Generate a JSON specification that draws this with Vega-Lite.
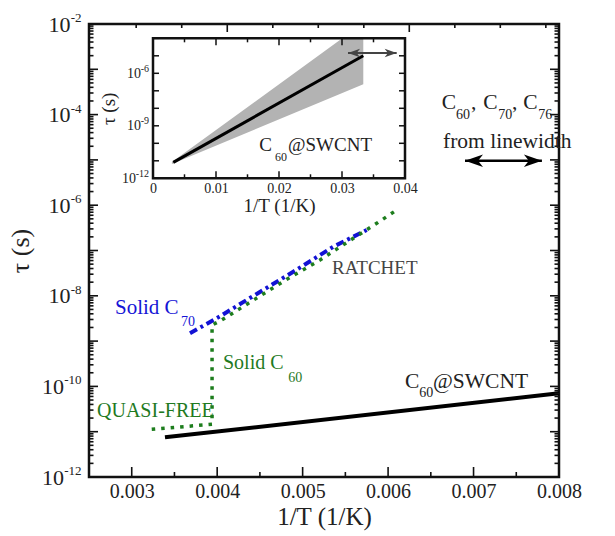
{
  "$schema": "https://vega.github.io/schema/vega-lite/v6.json",
  "width": 470,
  "height": 453,
  "autosize": "none",
  "padding": {"left": 89, "top": 24, "right": 56, "bottom": 59},
  "background": "white",
  "config": {
    "font": "Liberation Serif",
    "view": {"stroke": "#111", "strokeWidth": 2.5},
    "axis": {"labelColor": "#222", "titleColor": "#222", "titleFontWeight": "normal", "labelFont": "Liberation Serif", "titleFont": "Liberation Serif", "grid": false},
    "text": {"font": "Liberation Serif"}
  },
  "datasets": {
    "swcnt": [{"x": 0.003389, "y": 7.5e-12}, {"x": 0.008, "y": 7.05e-11}],
    "green": [
      {"o": 1, "x": 0.003234, "y": 1.13e-11},
      {"o": 2, "x": 0.00394, "y": 1.46e-11},
      {"o": 3, "x": 0.00394, "y": 2.26e-9},
      {"o": 4, "x": 0.004053, "y": 2.92e-9},
      {"o": 5, "x": 0.004501, "y": 9.9e-9},
      {"o": 6, "x": 0.004852, "y": 2.56e-8},
      {"o": 7, "x": 0.005203, "y": 6.17e-8},
      {"o": 8, "x": 0.005593, "y": 1.86e-7},
      {"o": 9, "x": 0.005867, "y": 3.98e-7},
      {"o": 10, "x": 0.006101, "y": 7.83e-7}
    ],
    "blue": [
      {"x": 0.003682, "y": 1.49e-9},
      {"x": 0.004013, "y": 3.35e-9},
      {"x": 0.004462, "y": 1.1e-8},
      {"x": 0.004891, "y": 3.4e-8},
      {"x": 0.005359, "y": 1.21e-7},
      {"x": 0.00575, "y": 2.84e-7}
    ],
    "arrowMain": [{"d": "L", "x": 0.0069, "y": 9.6e-6}, {"d": "R", "x": 0.0078, "y": 9.6e-6}],
    "txt": [
      {"g": "blueL", "x": 0.002804, "y": 5.37e-9, "t": "Solid C"},
      {"g": "blueS", "x": 0.003577, "y": 2.68e-9, "t": "70"},
      {"g": "greenL", "x": 0.004068, "y": 3.24e-10, "t": "Solid C"},
      {"g": "greenL", "x": 0.002594, "y": 2.91e-11, "t": "QUASI-FREE"},
      {"g": "greenS", "x": 0.004832, "y": 1.51e-10, "t": "60"},
      {"g": "ratchet", "x": 0.005344, "y": 4.11e-8, "t": "RATCHET"},
      {"g": "blackL", "x": 0.006198, "y": 1.27e-10, "t": "C"},
      {"g": "blackL", "x": 0.006526, "y": 1.27e-10, "t": "@SWCNT"},
      {"g": "blackL", "x": 0.006627, "y": 1.78e-4, "t": "C"},
      {"g": "blackL", "x": 0.00697, "y": 1.78e-4, "t": ","},
      {"g": "blackL", "x": 0.007114, "y": 1.78e-4, "t": "C"},
      {"g": "blackL", "x": 0.00745, "y": 1.78e-4, "t": ","},
      {"g": "blackL", "x": 0.007582, "y": 1.78e-4, "t": "C"},
      {"g": "blackL", "x": 0.006643, "y": 2.52e-5, "t": "from linewidth"},
      {"g": "blackS", "x": 0.006365, "y": 7.05e-11, "t": "60"},
      {"g": "blackS", "x": 0.006795, "y": 9.8e-5, "t": "60"},
      {"g": "blackS", "x": 0.00729, "y": 9.8e-5, "t": "70"},
      {"g": "blackS", "x": 0.007758, "y": 9.8e-5, "t": "76"}
    ],
    "mxt": [
      {"x": 0.003, "y": 1e-12, "d": "bM"}, {"x": 0.0035, "y": 1e-12, "d": "bm"}, {"x": 0.004, "y": 1e-12, "d": "bM"}, {"x": 0.0045, "y": 1e-12, "d": "bm"},
      {"x": 0.005, "y": 1e-12, "d": "bM"}, {"x": 0.0055, "y": 1e-12, "d": "bm"}, {"x": 0.006, "y": 1e-12, "d": "bM"}, {"x": 0.0065, "y": 1e-12, "d": "bm"},
      {"x": 0.007, "y": 1e-12, "d": "bM"}, {"x": 0.0075, "y": 1e-12, "d": "bm"}, {"x": 0.008, "y": 1e-12, "d": "bM"},
      {"x": 0.003052, "y": 1e-2, "d": "tm"}, {"x": 0.003585, "y": 1e-2, "d": "tm"}, {"x": 0.004118, "y": 1e-2, "d": "tM"}, {"x": 0.004651, "y": 1e-2, "d": "tm"},
      {"x": 0.005183, "y": 1e-2, "d": "tm"}, {"x": 0.005716, "y": 1e-2, "d": "tm"}, {"x": 0.006248, "y": 1e-2, "d": "tM"}, {"x": 0.006781, "y": 1e-2, "d": "tm"},
      {"x": 0.007313, "y": 1e-2, "d": "tm"}, {"x": 0.007846, "y": 1e-2, "d": "tm"}
    ],
    "myt": [
      {"y": 1e-12, "a": 0.0025, "b": 0.008, "p": "lM", "q": "rM"}, {"y": 2e-12, "a": 0.0025, "b": 0.008, "p": "lm", "q": "rm"}, {"y": 3e-12, "a": 0.0025, "b": 0.008, "p": "lm", "q": "rm"}, {"y": 4e-12, "a": 0.0025, "b": 0.008, "p": "lm", "q": "rm"}, {"y": 5e-12, "a": 0.0025, "b": 0.008, "p": "lm", "q": "rm"}, {"y": 6e-12, "a": 0.0025, "b": 0.008, "p": "lm", "q": "rm"}, {"y": 7e-12, "a": 0.0025, "b": 0.008, "p": "lm", "q": "rm"}, {"y": 8e-12, "a": 0.0025, "b": 0.008, "p": "lm", "q": "rm"}, {"y": 9e-12, "a": 0.0025, "b": 0.008, "p": "lm", "q": "rm"},
      {"y": 1e-11, "a": 0.0025, "b": 0.008, "p": "lM", "q": "rM"}, {"y": 2e-11, "a": 0.0025, "b": 0.008, "p": "lm", "q": "rm"}, {"y": 3e-11, "a": 0.0025, "b": 0.008, "p": "lm", "q": "rm"}, {"y": 4e-11, "a": 0.0025, "b": 0.008, "p": "lm", "q": "rm"}, {"y": 5e-11, "a": 0.0025, "b": 0.008, "p": "lm", "q": "rm"}, {"y": 6e-11, "a": 0.0025, "b": 0.008, "p": "lm", "q": "rm"}, {"y": 7e-11, "a": 0.0025, "b": 0.008, "p": "lm", "q": "rm"}, {"y": 8e-11, "a": 0.0025, "b": 0.008, "p": "lm", "q": "rm"}, {"y": 9e-11, "a": 0.0025, "b": 0.008, "p": "lm", "q": "rm"},
      {"y": 1e-10, "a": 0.0025, "b": 0.008, "p": "lM", "q": "rM"}, {"y": 2e-10, "a": 0.0025, "b": 0.008, "p": "lm", "q": "rm"}, {"y": 3e-10, "a": 0.0025, "b": 0.008, "p": "lm", "q": "rm"}, {"y": 4e-10, "a": 0.0025, "b": 0.008, "p": "lm", "q": "rm"}, {"y": 5e-10, "a": 0.0025, "b": 0.008, "p": "lm", "q": "rm"}, {"y": 6e-10, "a": 0.0025, "b": 0.008, "p": "lm", "q": "rm"}, {"y": 7e-10, "a": 0.0025, "b": 0.008, "p": "lm", "q": "rm"}, {"y": 8e-10, "a": 0.0025, "b": 0.008, "p": "lm", "q": "rm"}, {"y": 9e-10, "a": 0.0025, "b": 0.008, "p": "lm", "q": "rm"},
      {"y": 1e-9, "a": 0.0025, "b": 0.008, "p": "lM", "q": "rM"}, {"y": 2e-9, "a": 0.0025, "b": 0.008, "p": "lm", "q": "rm"}, {"y": 3e-9, "a": 0.0025, "b": 0.008, "p": "lm", "q": "rm"}, {"y": 4e-9, "a": 0.0025, "b": 0.008, "p": "lm", "q": "rm"}, {"y": 5e-9, "a": 0.0025, "b": 0.008, "p": "lm", "q": "rm"}, {"y": 6e-9, "a": 0.0025, "b": 0.008, "p": "lm", "q": "rm"}, {"y": 7e-9, "a": 0.0025, "b": 0.008, "p": "lm", "q": "rm"}, {"y": 8e-9, "a": 0.0025, "b": 0.008, "p": "lm", "q": "rm"}, {"y": 9e-9, "a": 0.0025, "b": 0.008, "p": "lm", "q": "rm"},
      {"y": 1e-8, "a": 0.0025, "b": 0.008, "p": "lM", "q": "rM"}, {"y": 2e-8, "a": 0.0025, "b": 0.008, "p": "lm", "q": "rm"}, {"y": 3e-8, "a": 0.0025, "b": 0.008, "p": "lm", "q": "rm"}, {"y": 4e-8, "a": 0.0025, "b": 0.008, "p": "lm", "q": "rm"}, {"y": 5e-8, "a": 0.0025, "b": 0.008, "p": "lm", "q": "rm"}, {"y": 6e-8, "a": 0.0025, "b": 0.008, "p": "lm", "q": "rm"}, {"y": 7e-8, "a": 0.0025, "b": 0.008, "p": "lm", "q": "rm"}, {"y": 8e-8, "a": 0.0025, "b": 0.008, "p": "lm", "q": "rm"}, {"y": 9e-8, "a": 0.0025, "b": 0.008, "p": "lm", "q": "rm"},
      {"y": 1e-7, "a": 0.0025, "b": 0.008, "p": "lM", "q": "rM"}, {"y": 2e-7, "a": 0.0025, "b": 0.008, "p": "lm", "q": "rm"}, {"y": 3e-7, "a": 0.0025, "b": 0.008, "p": "lm", "q": "rm"}, {"y": 4e-7, "a": 0.0025, "b": 0.008, "p": "lm", "q": "rm"}, {"y": 5e-7, "a": 0.0025, "b": 0.008, "p": "lm", "q": "rm"}, {"y": 6e-7, "a": 0.0025, "b": 0.008, "p": "lm", "q": "rm"}, {"y": 7e-7, "a": 0.0025, "b": 0.008, "p": "lm", "q": "rm"}, {"y": 8e-7, "a": 0.0025, "b": 0.008, "p": "lm", "q": "rm"}, {"y": 9e-7, "a": 0.0025, "b": 0.008, "p": "lm", "q": "rm"},
      {"y": 1e-6, "a": 0.0025, "b": 0.008, "p": "lM", "q": "rM"}, {"y": 2e-6, "a": 0.0025, "b": 0.008, "p": "lm", "q": "rm"}, {"y": 3e-6, "a": 0.0025, "b": 0.008, "p": "lm", "q": "rm"}, {"y": 4e-6, "a": 0.0025, "b": 0.008, "p": "lm", "q": "rm"}, {"y": 5e-6, "a": 0.0025, "b": 0.008, "p": "lm", "q": "rm"}, {"y": 6e-6, "a": 0.0025, "b": 0.008, "p": "lm", "q": "rm"}, {"y": 7e-6, "a": 0.0025, "b": 0.008, "p": "lm", "q": "rm"}, {"y": 8e-6, "a": 0.0025, "b": 0.008, "p": "lm", "q": "rm"}, {"y": 9e-6, "a": 0.0025, "b": 0.008, "p": "lm", "q": "rm"},
      {"y": 1e-5, "a": 0.0025, "b": 0.008, "p": "lM", "q": "rM"}, {"y": 2e-5, "a": 0.0025, "b": 0.008, "p": "lm", "q": "rm"}, {"y": 3e-5, "a": 0.0025, "b": 0.008, "p": "lm", "q": "rm"}, {"y": 4e-5, "a": 0.0025, "b": 0.008, "p": "lm", "q": "rm"}, {"y": 5e-5, "a": 0.0025, "b": 0.008, "p": "lm", "q": "rm"}, {"y": 6e-5, "a": 0.0025, "b": 0.008, "p": "lm", "q": "rm"}, {"y": 7e-5, "a": 0.0025, "b": 0.008, "p": "lm", "q": "rm"}, {"y": 8e-5, "a": 0.0025, "b": 0.008, "p": "lm", "q": "rm"}, {"y": 9e-5, "a": 0.0025, "b": 0.008, "p": "lm", "q": "rm"},
      {"y": 1e-4, "a": 0.0025, "b": 0.008, "p": "lM", "q": "rM"}, {"y": 2e-4, "a": 0.0025, "b": 0.008, "p": "lm", "q": "rm"}, {"y": 3e-4, "a": 0.0025, "b": 0.008, "p": "lm", "q": "rm"}, {"y": 4e-4, "a": 0.0025, "b": 0.008, "p": "lm", "q": "rm"}, {"y": 5e-4, "a": 0.0025, "b": 0.008, "p": "lm", "q": "rm"}, {"y": 6e-4, "a": 0.0025, "b": 0.008, "p": "lm", "q": "rm"}, {"y": 7e-4, "a": 0.0025, "b": 0.008, "p": "lm", "q": "rm"}, {"y": 8e-4, "a": 0.0025, "b": 0.008, "p": "lm", "q": "rm"}, {"y": 9e-4, "a": 0.0025, "b": 0.008, "p": "lm", "q": "rm"},
      {"y": 1e-3, "a": 0.0025, "b": 0.008, "p": "lM", "q": "rM"}, {"y": 2e-3, "a": 0.0025, "b": 0.008, "p": "lm", "q": "rm"}, {"y": 3e-3, "a": 0.0025, "b": 0.008, "p": "lm", "q": "rm"}, {"y": 4e-3, "a": 0.0025, "b": 0.008, "p": "lm", "q": "rm"}, {"y": 5e-3, "a": 0.0025, "b": 0.008, "p": "lm", "q": "rm"}, {"y": 6e-3, "a": 0.0025, "b": 0.008, "p": "lm", "q": "rm"}, {"y": 7e-3, "a": 0.0025, "b": 0.008, "p": "lm", "q": "rm"}, {"y": 8e-3, "a": 0.0025, "b": 0.008, "p": "lm", "q": "rm"}, {"y": 9e-3, "a": 0.0025, "b": 0.008, "p": "lm", "q": "rm"},
      {"y": 1e-2, "a": 0.0025, "b": 0.008, "p": "lM", "q": "rM"}
    ],
    "itk": [
      {"x": 0, "y": 1e-12, "d": "ibM"}, {"x": 0.005, "y": 1e-12, "d": "ibm"}, {"x": 0.01, "y": 1e-12, "d": "ibM"}, {"x": 0.015, "y": 1e-12, "d": "ibm"}, {"x": 0.02, "y": 1e-12, "d": "ibM"},
      {"x": 0.025, "y": 1e-12, "d": "ibm"}, {"x": 0.03, "y": 1e-12, "d": "ibM"}, {"x": 0.035, "y": 1e-12, "d": "ibm"}, {"x": 0.04, "y": 1e-12, "d": "ibM"},
      {"x": 0, "y": 1e-4, "d": "itM"}, {"x": 0.005, "y": 1e-4, "d": "itm"}, {"x": 0.01, "y": 1e-4, "d": "itM"}, {"x": 0.015, "y": 1e-4, "d": "itm"}, {"x": 0.02, "y": 1e-4, "d": "itM"},
      {"x": 0.025, "y": 1e-4, "d": "itm"}, {"x": 0.03, "y": 1e-4, "d": "itM"}, {"x": 0.035, "y": 1e-4, "d": "itm"}, {"x": 0.04, "y": 1e-4, "d": "itM"},
      {"x": 0, "y": 1e-12, "d": "il"}, {"x": 0, "y": 1e-11, "d": "il"}, {"x": 0, "y": 1e-10, "d": "il"}, {"x": 0, "y": 1e-9, "d": "il"}, {"x": 0, "y": 1e-8, "d": "il"},
      {"x": 0, "y": 1e-7, "d": "il"}, {"x": 0, "y": 1e-6, "d": "il"}, {"x": 0, "y": 1e-5, "d": "il"}, {"x": 0, "y": 1e-4, "d": "il"},
      {"x": 0.04, "y": 1e-12, "d": "ir"}, {"x": 0.04, "y": 1e-11, "d": "ir"}, {"x": 0.04, "y": 1e-10, "d": "ir"}, {"x": 0.04, "y": 1e-9, "d": "ir"}, {"x": 0.04, "y": 1e-8, "d": "ir"},
      {"x": 0.04, "y": 1e-7, "d": "ir"}, {"x": 0.04, "y": 1e-6, "d": "ir"}, {"x": 0.04, "y": 1e-5, "d": "ir"}, {"x": 0.04, "y": 1e-4, "d": "ir"}
    ],
    "iframe": [{"x": 0, "x2": 0.04, "y": 1e-12, "y2": 1e-4}],
    "iband": [
      {"x": 0.003, "lo": 6.5e-12, "hi": 8.5e-12},
      {"x": 0.03005, "lo": 7.6e-8, "hi": 1e-4},
      {"x": 0.03338, "lo": 2.34e-7, "hi": 1e-4}
    ],
    "iline": [{"x": 0.00322, "y": 8.1e-12}, {"x": 0.03338, "y": 1.01e-5}],
    "iarrow": [{"d": "L", "x": 0.03095, "y": 1.45e-5}, {"d": "R", "x": 0.03868, "y": 1.45e-5}],
    "itxt": [
      {"g": "L", "x": 0.01687, "y": 8.0e-11, "t": "C"},
      {"g": "L", "x": 0.02143, "y": 8.0e-11, "t": "@SWCNT"},
      {"g": "S", "x": 0.01937, "y": 1.71e-11, "t": "60"}
    ]
  },
  "layer": [
    {
      "data": {"name": "swcnt"},
      "mark": {"type": "line", "color": "#000", "strokeWidth": 4},
      "encoding": {
        "x": {"field": "x", "type": "quantitative", "scale": {"domain": [0.0025, 0.008], "nice": false, "zero": false},
          "axis": {"orient": "bottom", "values": [0.003, 0.004, 0.005, 0.006, 0.007, 0.008], "format": ".3f", "ticks": false, "domain": false, "labelFlush": false,
            "labelFontSize": 20, "labelPadding": 4, "title": "1/T (1/K)", "titleFontSize": 25, "titlePadding": 3}},
        "y": {"field": "y", "type": "quantitative", "scale": {"type": "log", "domain": [1e-12, 1e-2], "nice": false},
          "axis": {"orient": "left", "values": [1e-12, 1e-10, 1e-8, 1e-6, 1e-4, 1e-2], "labelExpr": "'10'", "ticks": false, "domain": false, "labelFlush": false,
            "labelFontSize": 22, "labelPadding": {"condition": {"test": "datum.value < 1e-9", "value": 25.5}, "value": 19},
            "title": "τ (s)", "titleFontSize": 26, "titlePadding": 8}}
      }
    },
    {
      "data": {"name": "blue"},
      "mark": {"type": "line", "color": "#1212d4", "strokeWidth": 4, "strokeDash": [8, 4, 3, 4]},
      "encoding": {
        "x": {"field": "x", "type": "quantitative", "scale": {"domain": [0.0025, 0.008], "nice": false, "zero": false}, "axis": null},
        "y": {"field": "y", "type": "quantitative", "scale": {"type": "log", "domain": [1e-12, 1e-2], "nice": false}, "axis": null}
      }
    },
    {
      "data": {"name": "green"},
      "mark": {"type": "line", "color": "#1d7d1d", "strokeWidth": 3.5, "strokeDash": [3.5, 6]},
      "encoding": {
        "x": {"field": "x", "type": "quantitative", "scale": {"domain": [0.0025, 0.008], "nice": false, "zero": false}, "axis": null},
        "y": {"field": "y", "type": "quantitative", "scale": {"type": "log", "domain": [1e-12, 1e-2], "nice": false}, "axis": null},
        "order": {"field": "o", "type": "quantitative"}
      }
    },
    {
      "data": {"name": "arrowMain"},
      "mark": {"type": "line", "color": "#000", "strokeWidth": 2.5},
      "encoding": {
        "x": {"field": "x", "type": "quantitative", "scale": {"domain": [0.0025, 0.008], "nice": false, "zero": false}, "axis": null},
        "y": {"field": "y", "type": "quantitative", "scale": {"type": "log", "domain": [1e-12, 1e-2], "nice": false},
          "axis": {"orient": "left", "values": [1e-12, 1e-10, 1e-8, 1e-6, 1e-4, 1e-2], "labelExpr": "'-' + round(-log(datum.value)/LN10)", "labelFlush": false,
            "ticks": false, "domain": false, "labelFontSize": 13, "labelPadding": 8, "labelOffset": -6.5, "title": null}}
      }
    },
    {
      "data": {"name": "arrowMain"},
      "mark": {"type": "point", "filled": true, "color": "#000", "size": 324, "opacity": 1, "strokeWidth": 0},
      "encoding": {
        "x": {"field": "x", "type": "quantitative", "scale": {"domain": [0.0025, 0.008], "nice": false, "zero": false}, "axis": null},
        "y": {"field": "y", "type": "quantitative", "scale": {"type": "log", "domain": [1e-12, 1e-2], "nice": false}, "axis": null},
        "shape": {"field": "d", "type": "nominal", "legend": null, "scale": {"domain": ["L","R","bM","bm","tM","tm","lM","lm","rM","rm","ibM","ibm","itM","itm","il","ir"], "range": ["M0,0L2,-0.7L1.45,0L2,0.7Z","M0,0L-2,-0.7L-1.45,0L-2,0.7Z","M-0.16,0L0.16,0L0.16,-2L-0.16,-2Z","M-0.16,0L0.16,0L0.16,-1L-0.16,-1Z","M-0.16,0L0.16,0L0.16,1.6L-0.16,1.6Z","M-0.16,0L0.16,0L0.16,0.8L-0.16,0.8Z","M0,-0.16L1.8,-0.16L1.8,0.16L0,0.16Z","M0,-0.16L0.9,-0.16L0.9,0.16L0,0.16Z","M0,-0.16L-1.8,-0.16L-1.8,0.16L0,0.16Z","M0,-0.16L-0.9,-0.16L-0.9,0.16L0,0.16Z","M-0.15,0L0.15,0L0.15,-1.4L-0.15,-1.4Z","M-0.15,0L0.15,0L0.15,-0.8L-0.15,-0.8Z","M-0.15,0L0.15,0L0.15,1.4L-0.15,1.4Z","M-0.15,0L0.15,0L0.15,0.8L-0.15,0.8Z","M0,-0.15L1.2,-0.15L1.2,0.15L0,0.15Z","M0,-0.15L-1.2,-0.15L-1.2,0.15L0,0.15Z"]}}
      }
    },
    {
      "data": {"name": "mxt"},
      "mark": {"type": "point", "filled": true, "color": "#111", "size": 100, "opacity": 1, "strokeWidth": 0},
      "encoding": {
        "x": {"field": "x", "type": "quantitative", "scale": {"domain": [0.0025, 0.008], "nice": false, "zero": false}, "axis": null},
        "y": {"field": "y", "type": "quantitative", "scale": {"type": "log", "domain": [1e-12, 1e-2], "nice": false}, "axis": null},
        "shape": {"field": "d", "type": "nominal", "legend": null, "scale": {"domain": ["L","R","bM","bm","tM","tm","lM","lm","rM","rm","ibM","ibm","itM","itm","il","ir"], "range": ["M0,0L2,-0.7L1.45,0L2,0.7Z","M0,0L-2,-0.7L-1.45,0L-2,0.7Z","M-0.16,0L0.16,0L0.16,-2L-0.16,-2Z","M-0.16,0L0.16,0L0.16,-1L-0.16,-1Z","M-0.16,0L0.16,0L0.16,1.6L-0.16,1.6Z","M-0.16,0L0.16,0L0.16,0.8L-0.16,0.8Z","M0,-0.16L1.8,-0.16L1.8,0.16L0,0.16Z","M0,-0.16L0.9,-0.16L0.9,0.16L0,0.16Z","M0,-0.16L-1.8,-0.16L-1.8,0.16L0,0.16Z","M0,-0.16L-0.9,-0.16L-0.9,0.16L0,0.16Z","M-0.15,0L0.15,0L0.15,-1.4L-0.15,-1.4Z","M-0.15,0L0.15,0L0.15,-0.8L-0.15,-0.8Z","M-0.15,0L0.15,0L0.15,1.4L-0.15,1.4Z","M-0.15,0L0.15,0L0.15,0.8L-0.15,0.8Z","M0,-0.15L1.2,-0.15L1.2,0.15L0,0.15Z","M0,-0.15L-1.2,-0.15L-1.2,0.15L0,0.15Z"]}}
      }
    },
    {
      "data": {"name": "myt"},
      "mark": {"type": "point", "filled": true, "color": "#111", "size": 100, "opacity": 1, "strokeWidth": 0},
      "encoding": {
        "x": {"field": "a", "type": "quantitative", "scale": {"domain": [0.0025, 0.008], "nice": false, "zero": false}, "axis": null},
        "y": {"field": "y", "type": "quantitative", "scale": {"type": "log", "domain": [1e-12, 1e-2], "nice": false}, "axis": null},
        "shape": {"field": "p", "type": "nominal", "legend": null, "scale": {"domain": ["L","R","bM","bm","tM","tm","lM","lm","rM","rm","ibM","ibm","itM","itm","il","ir"], "range": ["M0,0L2,-0.7L1.45,0L2,0.7Z","M0,0L-2,-0.7L-1.45,0L-2,0.7Z","M-0.16,0L0.16,0L0.16,-2L-0.16,-2Z","M-0.16,0L0.16,0L0.16,-1L-0.16,-1Z","M-0.16,0L0.16,0L0.16,1.6L-0.16,1.6Z","M-0.16,0L0.16,0L0.16,0.8L-0.16,0.8Z","M0,-0.16L1.8,-0.16L1.8,0.16L0,0.16Z","M0,-0.16L0.9,-0.16L0.9,0.16L0,0.16Z","M0,-0.16L-1.8,-0.16L-1.8,0.16L0,0.16Z","M0,-0.16L-0.9,-0.16L-0.9,0.16L0,0.16Z","M-0.15,0L0.15,0L0.15,-1.4L-0.15,-1.4Z","M-0.15,0L0.15,0L0.15,-0.8L-0.15,-0.8Z","M-0.15,0L0.15,0L0.15,1.4L-0.15,1.4Z","M-0.15,0L0.15,0L0.15,0.8L-0.15,0.8Z","M0,-0.15L1.2,-0.15L1.2,0.15L0,0.15Z","M0,-0.15L-1.2,-0.15L-1.2,0.15L0,0.15Z"]}}
      }
    },
    {
      "data": {"name": "myt"},
      "mark": {"type": "point", "filled": true, "color": "#111", "size": 100, "opacity": 1, "strokeWidth": 0},
      "encoding": {
        "x": {"field": "b", "type": "quantitative", "scale": {"domain": [0.0025, 0.008], "nice": false, "zero": false}, "axis": null},
        "y": {"field": "y", "type": "quantitative", "scale": {"type": "log", "domain": [1e-12, 1e-2], "nice": false}, "axis": null},
        "shape": {"field": "q", "type": "nominal", "legend": null, "scale": {"domain": ["L","R","bM","bm","tM","tm","lM","lm","rM","rm","ibM","ibm","itM","itm","il","ir"], "range": ["M0,0L2,-0.7L1.45,0L2,0.7Z","M0,0L-2,-0.7L-1.45,0L-2,0.7Z","M-0.16,0L0.16,0L0.16,-2L-0.16,-2Z","M-0.16,0L0.16,0L0.16,-1L-0.16,-1Z","M-0.16,0L0.16,0L0.16,1.6L-0.16,1.6Z","M-0.16,0L0.16,0L0.16,0.8L-0.16,0.8Z","M0,-0.16L1.8,-0.16L1.8,0.16L0,0.16Z","M0,-0.16L0.9,-0.16L0.9,0.16L0,0.16Z","M0,-0.16L-1.8,-0.16L-1.8,0.16L0,0.16Z","M0,-0.16L-0.9,-0.16L-0.9,0.16L0,0.16Z","M-0.15,0L0.15,0L0.15,-1.4L-0.15,-1.4Z","M-0.15,0L0.15,0L0.15,-0.8L-0.15,-0.8Z","M-0.15,0L0.15,0L0.15,1.4L-0.15,1.4Z","M-0.15,0L0.15,0L0.15,0.8L-0.15,0.8Z","M0,-0.15L1.2,-0.15L1.2,0.15L0,0.15Z","M0,-0.15L-1.2,-0.15L-1.2,0.15L0,0.15Z"]}}
      }
    },
    {
      "data": {"name": "txt"},
      "transform": [{"filter": "datum.g=='blueL'"}],
      "mark": {"type": "text", "align": "left", "baseline": "middle", "fontSize": 21, "color": "#1515d6"},
      "encoding": {
        "x": {"field": "x", "type": "quantitative", "scale": {"domain": [0.0025, 0.008], "nice": false, "zero": false}, "axis": null},
        "y": {"field": "y", "type": "quantitative", "scale": {"type": "log", "domain": [1e-12, 1e-2], "nice": false}, "axis": null},
        "text": {"field": "t"}
      }
    },
    {
      "data": {"name": "txt"},
      "transform": [{"filter": "datum.g=='blueS'"}],
      "mark": {"type": "text", "align": "left", "baseline": "middle", "fontSize": 14, "color": "#1515d6"},
      "encoding": {
        "x": {"field": "x", "type": "quantitative", "scale": {"domain": [0.0025, 0.008], "nice": false, "zero": false}, "axis": null},
        "y": {"field": "y", "type": "quantitative", "scale": {"type": "log", "domain": [1e-12, 1e-2], "nice": false}, "axis": null},
        "text": {"field": "t"}
      }
    },
    {
      "data": {"name": "txt"},
      "transform": [{"filter": "datum.g=='greenL'"}],
      "mark": {"type": "text", "align": "left", "baseline": "middle", "fontSize": 20, "color": "#1f7a1f"},
      "encoding": {
        "x": {"field": "x", "type": "quantitative", "scale": {"domain": [0.0025, 0.008], "nice": false, "zero": false}, "axis": null},
        "y": {"field": "y", "type": "quantitative", "scale": {"type": "log", "domain": [1e-12, 1e-2], "nice": false}, "axis": null},
        "text": {"field": "t"}
      }
    },
    {
      "data": {"name": "txt"},
      "transform": [{"filter": "datum.g=='greenS'"}],
      "mark": {"type": "text", "align": "left", "baseline": "middle", "fontSize": 14, "color": "#1f7a1f"},
      "encoding": {
        "x": {"field": "x", "type": "quantitative", "scale": {"domain": [0.0025, 0.008], "nice": false, "zero": false}, "axis": null},
        "y": {"field": "y", "type": "quantitative", "scale": {"type": "log", "domain": [1e-12, 1e-2], "nice": false}, "axis": null},
        "text": {"field": "t"}
      }
    },
    {
      "data": {"name": "txt"},
      "transform": [{"filter": "datum.g=='ratchet'"}],
      "mark": {"type": "text", "align": "left", "baseline": "middle", "fontSize": 19, "color": "#444"},
      "encoding": {
        "x": {"field": "x", "type": "quantitative", "scale": {"domain": [0.0025, 0.008], "nice": false, "zero": false}, "axis": null},
        "y": {"field": "y", "type": "quantitative", "scale": {"type": "log", "domain": [1e-12, 1e-2], "nice": false}, "axis": null},
        "text": {"field": "t"}
      }
    },
    {
      "data": {"name": "txt"},
      "transform": [{"filter": "datum.g=='blackL'"}],
      "mark": {"type": "text", "align": "left", "baseline": "middle", "fontSize": 21.5, "color": "#222"},
      "encoding": {
        "x": {"field": "x", "type": "quantitative", "scale": {"domain": [0.0025, 0.008], "nice": false, "zero": false}, "axis": null},
        "y": {"field": "y", "type": "quantitative", "scale": {"type": "log", "domain": [1e-12, 1e-2], "nice": false}, "axis": null},
        "text": {"field": "t"}
      }
    },
    {
      "data": {"name": "txt"},
      "transform": [{"filter": "datum.g=='blackS'"}],
      "mark": {"type": "text", "align": "left", "baseline": "middle", "fontSize": 14, "color": "#222"},
      "encoding": {
        "x": {"field": "x", "type": "quantitative", "scale": {"domain": [0.0025, 0.008], "nice": false, "zero": false}, "axis": null},
        "y": {"field": "y", "type": "quantitative", "scale": {"type": "log", "domain": [1e-12, 1e-2], "nice": false}, "axis": null},
        "text": {"field": "t"}
      }
    },
    {
      "data": {"name": "iband"},
      "mark": {"type": "area", "color": "#b3b3b3", "opacity": 1},
      "encoding": {
        "x": {"field": "x", "type": "quantitative", "scale": {"domain": [0, 0.04], "range": [64, 316], "nice": false, "zero": false},
          "axis": {"orient": "bottom", "offset": -298.7, "values": [0, 0.01, 0.02, 0.03, 0.04], "labelFlush": false, "domain": false,
            "labelExpr": "datum.value==0 ? '0' : format(datum.value,'.2f')", "ticks": false,
            "labelFontSize": 14, "labelPadding": 3, "title": "1/T (1/K)", "titleFontSize": 19, "titlePadding": 1}},
        "y": {"field": "lo", "type": "quantitative", "scale": {"type": "log", "domain": [1e-12, 1e-4], "range": [154.3, 14.3], "nice": false},
          "axis": {"orient": "left", "offset": -64, "values": [1e-12, 1e-9, 1e-6], "labelExpr": "'10'", "ticks": false, "domain": false, "labelFlush": false,
            "labelFontSize": 14, "labelPadding": {"condition": {"test": "datum.value < 1e-10", "value": 17.5}, "value": 12.5},
            "title": "τ (s)", "titleFontSize": 19, "titlePadding": 3}},
        "y2": {"field": "hi"}
      }
    },
    {
      "data": {"name": "iline"},
      "mark": {"type": "line", "color": "#000", "strokeWidth": 3},
      "encoding": {
        "x": {"field": "x", "type": "quantitative", "scale": {"domain": [0, 0.04], "range": [64, 316], "nice": false, "zero": false}, "axis": null},
        "y": {"field": "y", "type": "quantitative", "scale": {"type": "log", "domain": [1e-12, 1e-4], "range": [154.3, 14.3], "nice": false}, "axis": null}
      }
    },
    {
      "data": {"name": "iarrow"},
      "mark": {"type": "line", "color": "#444", "strokeWidth": 2},
      "encoding": {
        "x": {"field": "x", "type": "quantitative", "scale": {"domain": [0, 0.04], "range": [64, 316], "nice": false, "zero": false}, "axis": null},
        "y": {"field": "y", "type": "quantitative", "scale": {"type": "log", "domain": [1e-12, 1e-4], "range": [154.3, 14.3], "nice": false}, "axis": null}
      }
    },
    {
      "data": {"name": "iarrow"},
      "mark": {"type": "point", "filled": true, "color": "#444", "size": 144, "opacity": 1, "strokeWidth": 0},
      "encoding": {
        "x": {"field": "x", "type": "quantitative", "scale": {"domain": [0, 0.04], "range": [64, 316], "nice": false, "zero": false}, "axis": null},
        "y": {"field": "y", "type": "quantitative", "scale": {"type": "log", "domain": [1e-12, 1e-4], "range": [154.3, 14.3], "nice": false},
          "axis": {"orient": "left", "offset": -64, "values": [1e-12, 1e-9, 1e-6], "labelExpr": "'-' + round(-log(datum.value)/LN10)", "labelFlush": false,
            "ticks": false, "domain": false, "labelFontSize": 10, "labelPadding": 4.5, "labelOffset": -5, "title": null}},
        "shape": {"field": "d", "type": "nominal", "legend": null, "scale": {"domain": ["L","R","bM","bm","tM","tm","lM","lm","rM","rm","ibM","ibm","itM","itm","il","ir"], "range": ["M0,0L2,-0.7L1.45,0L2,0.7Z","M0,0L-2,-0.7L-1.45,0L-2,0.7Z","M-0.16,0L0.16,0L0.16,-2L-0.16,-2Z","M-0.16,0L0.16,0L0.16,-1L-0.16,-1Z","M-0.16,0L0.16,0L0.16,1.6L-0.16,1.6Z","M-0.16,0L0.16,0L0.16,0.8L-0.16,0.8Z","M0,-0.16L1.8,-0.16L1.8,0.16L0,0.16Z","M0,-0.16L0.9,-0.16L0.9,0.16L0,0.16Z","M0,-0.16L-1.8,-0.16L-1.8,0.16L0,0.16Z","M0,-0.16L-0.9,-0.16L-0.9,0.16L0,0.16Z","M-0.15,0L0.15,0L0.15,-1.4L-0.15,-1.4Z","M-0.15,0L0.15,0L0.15,-0.8L-0.15,-0.8Z","M-0.15,0L0.15,0L0.15,1.4L-0.15,1.4Z","M-0.15,0L0.15,0L0.15,0.8L-0.15,0.8Z","M0,-0.15L1.2,-0.15L1.2,0.15L0,0.15Z","M0,-0.15L-1.2,-0.15L-1.2,0.15L0,0.15Z"]}}
      }
    },
    {
      "data": {"name": "itk"},
      "mark": {"type": "point", "filled": true, "color": "#111", "size": 100, "opacity": 1, "strokeWidth": 0},
      "encoding": {
        "x": {"field": "x", "type": "quantitative", "scale": {"domain": [0, 0.04], "range": [64, 316], "nice": false, "zero": false}, "axis": null},
        "y": {"field": "y", "type": "quantitative", "scale": {"type": "log", "domain": [1e-12, 1e-4], "range": [154.3, 14.3], "nice": false}, "axis": null},
        "shape": {"field": "d", "type": "nominal", "legend": null, "scale": {"domain": ["L","R","bM","bm","tM","tm","lM","lm","rM","rm","ibM","ibm","itM","itm","il","ir"], "range": ["M0,0L2,-0.7L1.45,0L2,0.7Z","M0,0L-2,-0.7L-1.45,0L-2,0.7Z","M-0.16,0L0.16,0L0.16,-2L-0.16,-2Z","M-0.16,0L0.16,0L0.16,-1L-0.16,-1Z","M-0.16,0L0.16,0L0.16,1.6L-0.16,1.6Z","M-0.16,0L0.16,0L0.16,0.8L-0.16,0.8Z","M0,-0.16L1.8,-0.16L1.8,0.16L0,0.16Z","M0,-0.16L0.9,-0.16L0.9,0.16L0,0.16Z","M0,-0.16L-1.8,-0.16L-1.8,0.16L0,0.16Z","M0,-0.16L-0.9,-0.16L-0.9,0.16L0,0.16Z","M-0.15,0L0.15,0L0.15,-1.4L-0.15,-1.4Z","M-0.15,0L0.15,0L0.15,-0.8L-0.15,-0.8Z","M-0.15,0L0.15,0L0.15,1.4L-0.15,1.4Z","M-0.15,0L0.15,0L0.15,0.8L-0.15,0.8Z","M0,-0.15L1.2,-0.15L1.2,0.15L0,0.15Z","M0,-0.15L-1.2,-0.15L-1.2,0.15L0,0.15Z"]}}
      }
    },
    {
      "data": {"name": "itxt"},
      "transform": [{"filter": "datum.g=='L'"}],
      "mark": {"type": "text", "align": "left", "baseline": "middle", "fontSize": 19, "color": "#222"},
      "encoding": {
        "x": {"field": "x", "type": "quantitative", "scale": {"domain": [0, 0.04], "range": [64, 316], "nice": false, "zero": false}, "axis": null},
        "y": {"field": "y", "type": "quantitative", "scale": {"type": "log", "domain": [1e-12, 1e-4], "range": [154.3, 14.3], "nice": false}, "axis": null},
        "text": {"field": "t"}
      }
    },
    {
      "data": {"name": "itxt"},
      "transform": [{"filter": "datum.g=='S'"}],
      "mark": {"type": "text", "align": "left", "baseline": "middle", "fontSize": 12, "color": "#222"},
      "encoding": {
        "x": {"field": "x", "type": "quantitative", "scale": {"domain": [0, 0.04], "range": [64, 316], "nice": false, "zero": false}, "axis": null},
        "y": {"field": "y", "type": "quantitative", "scale": {"type": "log", "domain": [1e-12, 1e-4], "range": [154.3, 14.3], "nice": false}, "axis": null},
        "text": {"field": "t"}
      }
    },
    {
      "data": {"name": "iframe"},
      "mark": {"type": "rect", "filled": false, "stroke": "#111", "strokeWidth": 2.5},
      "encoding": {
        "x": {"field": "x", "type": "quantitative", "scale": {"domain": [0, 0.04], "range": [64, 316], "nice": false, "zero": false}, "axis": null},
        "x2": {"field": "x2"},
        "y": {"field": "y", "type": "quantitative", "scale": {"type": "log", "domain": [1e-12, 1e-4], "range": [154.3, 14.3], "nice": false}, "axis": null},
        "y2": {"field": "y2"}
      }
    }
  ],
  "resolve": {"scale": {"x": "independent", "y": "independent"}, "axis": {"x": "independent", "y": "independent"}}
}
